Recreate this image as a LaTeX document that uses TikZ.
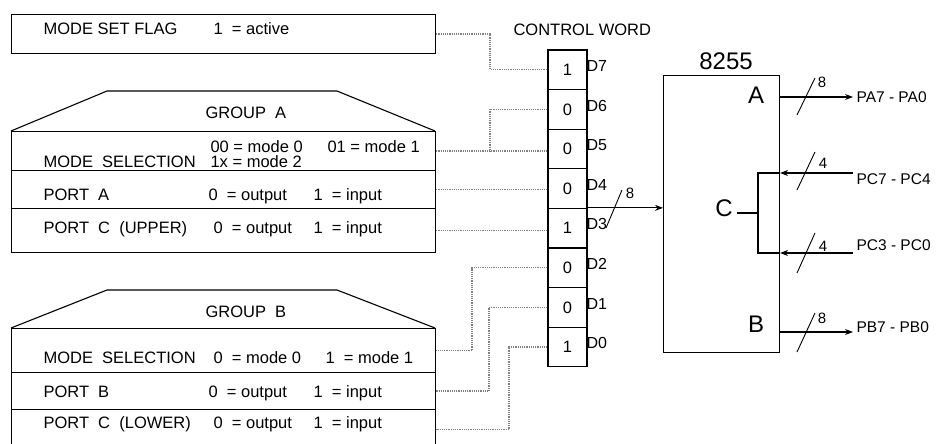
\documentclass[tikz,border=0pt]{standalone}
\usepackage{fontspec}
\setmainfont{Liberation Sans}
\usetikzlibrary{arrows.meta,calc}
\begin{document}
\begin{tikzpicture}[x=1pt,y=-1pt,
  line width=1.1pt,
  row/.style={draw, rectangle, minimum width=424pt, anchor=north west, inner sep=0pt},
  txt/.style={anchor=base west, inner sep=0pt, font=\fontsize{16.5}{18}\selectfont},
  cell/.style={draw, rectangle, minimum width=39pt, minimum height=39.6pt, inner sep=0pt, font=\fontsize{16.5}{18}\selectfont},
  dlab/.style={anchor=west, inner sep=0pt, font=\fontsize{16}{18}\selectfont},
  dots/.style={densely dotted, line width=1.2pt, gray},
  big/.style={inner sep=0pt, font=\fontsize{24}{28}\selectfont},
  small/.style={inner sep=0pt, font=\fontsize{15}{17}\selectfont},
  port/.style={anchor=west, inner xsep=3pt, inner ysep=0pt, font=\fontsize{15.5}{17}\selectfont},
  slash/.style={line width=0.9pt},
  tip/.style={-{Stealth[length=8pt,width=6pt]}}
]
\useasboundingbox (0,0) rectangle (940,444);

% mode set flag
\node[row, minimum height=39pt] (msf) at (11,14) {};
\node[txt] at (43,35) {MODE SET FLAG};
\node[txt] at (213,35) {1\ \ = active};

% group A
\draw (11,131) -- (107,91) -- (337,91) -- (435,131);
\node[row, minimum height=39pt] (gams) at (11,131) {};
\node[row, minimum height=38pt] (pa) at (11,170) {};
\node[row, minimum height=44pt] (pcu) at (11,208) {};
\node[txt] at (205,118) {GROUP\ \ A};
\node[txt] at (43,167) {MODE\ \ SELECTION};
\node[txt] at (210,152) {00 = mode 0};
\node[txt] at (327,152) {01 = mode 1};
\node[txt] at (210,167) {1x = mode 2};
\node[txt] at (43,200) {PORT\ \ A};
\node[txt] at (208,200) {0\ \ = output};
\node[txt] at (313,200) {1\ \ = input};
\node[txt] at (43,233) {PORT\ \ C\ \ (UPPER)};
\node[txt] at (213,233) {0\ \ = output};
\node[txt] at (313,233) {1\ \ = input};

% group B
\draw (11,328) -- (107,290) -- (337,290) -- (435,328);
\node[row, minimum height=44pt] (gbms) at (11,328) {};
\node[row, minimum height=37pt] (pb) at (11,372) {};
\node[row, minimum height=40pt] (pcl) at (11,409) {};
\node[txt] at (205,317) {GROUP\ \ B};
\node[txt] at (43,363) {MODE\ \ SELECTION};
\node[txt] at (213,363) {0\ \ = mode 0};
\node[txt] at (325,363) {1\ \ = mode 1};
\node[txt] at (43,397) {PORT\ \ B};
\node[txt] at (208,397) {0\ \ = output};
\node[txt] at (313,397) {1\ \ = input};
\node[txt] at (43,428) {PORT\ \ C\ \ (LOWER)};
\node[txt] at (213,428) {0\ \ = output};
\node[txt] at (313,428) {1\ \ = input};

% control word
\node[txt] at (513,36) {CONTROL WORD};
\foreach \v/\i [count=\k from 0] in {1/7,0/6,0/5,0/4,1/3,0/2,0/1,1/0} {
  \node[cell] (d\i) at (567.5,{69.8+39.6*\k}) {\v};
  \node[dlab] at (586,{66+39.6*\k}) {D\i};
}

% dotted connectors
\coordinate (j7) at (490,0);
\coordinate (j2) at (472,0);
\coordinate (j1) at (489,0);
\coordinate (j0) at (509,0);
\draw[dots] (msf.east) -- (msf.east -| j7) |- (d7.west);
\draw[dots] (d6.west) -| (gams.east -| j7);
\draw[dots] (gams.east) -- (gams.east -| d5.west);
\draw[dots] (pa.east) -- (pa.east -| d4.west);
\draw[dots] (pcu.east) -- (pcu.east -| d3.west);
\draw[dots] (d2.west) -| (gbms.east -| j2) -- (gbms.east);
\draw[dots] (d1.west) -| (pb.east -| j1) -- (pb.east);
\draw[dots] (d0.west) -| (pcl.east -| j0) -- (pcl.east);

% 8255
\node[draw, rectangle, minimum width=116pt, minimum height=277pt, anchor=north west, inner sep=0pt] (chip) at (663,75) {};
\node[big] at (726,61) {8255};
\node[big] at (756,95) {A};
\node[big] at (756,324) {B};
\node[big] (cl) at (724,208) {C};

% data bus
\draw[tip] (d3.north east) -- (chip.west |- d3.north east);
\draw[slash] (606,228) -- (622,190);
\node[small] at (630,193) {8};

% port A
\node[port] (pao) at (853,97) {PA7 - PA0};
\draw[tip] (chip.east |- pao.west) -- (pao.west);
\draw[slash] (797,115) -- (815,78);
\node[small] at (822,82) {8};

% port C
\coordinate (cu) at (758,173);
\coordinate (cd) at (758,253);
\node[port] (pc74) at (853,179) {PC7 - PC4};
\node[port] (pc30) at (853,245) {PC3 - PC0};
\draw[tip] (pc74.west |- cu) -- (chip.east |- cu);
\draw[tip] (pc30.west |- cd) -- (chip.east |- cd);
\draw (chip.east |- cu) -- (cu) -- (cd) -- (chip.east |- cd);
\draw ([xshift=4pt]cl.east |- 0,213) -- (cu |- 0,213);
\draw[slash] (797,190) -- (815,152);
\node[small] at (823,163) {4};
\draw[slash] (797,273) -- (815,233);
\node[small] at (823,246) {4};

% port B
\node[port] (pbo) at (853,327) {PB7 - PB0};
\draw[tip] (chip.east |- 0,332) -- (pbo.west |- 0,332);
\draw[slash] (797,352) -- (815,313);
\node[small] at (822,318) {8};
\end{tikzpicture}
\end{document}
